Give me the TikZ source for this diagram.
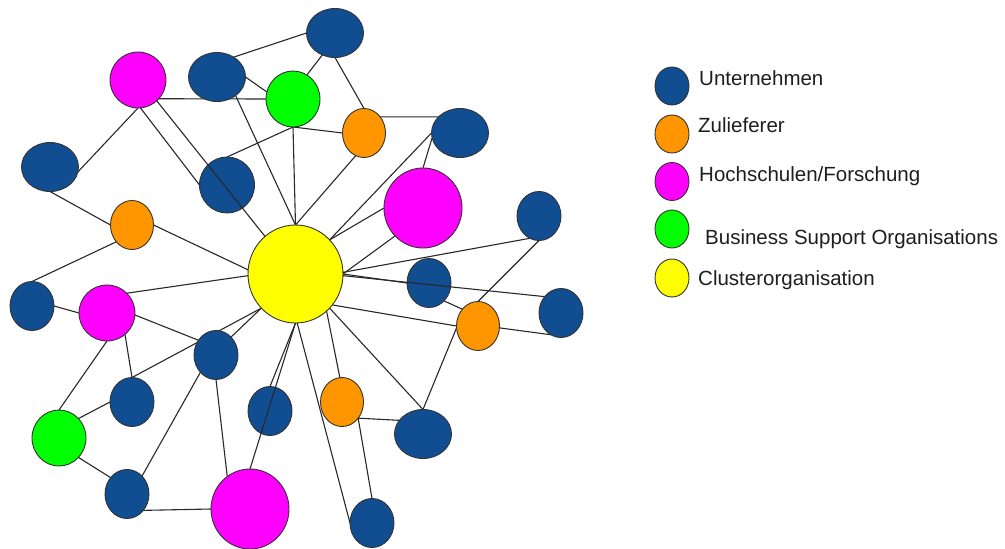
\documentclass[tikz,border=0pt]{standalone}
\usepackage{fontspec}
\setmainfont{Liberation Sans}
\usetikzlibrary{shapes.geometric}
\definecolor{ublue}{RGB}{16,77,145}
\definecolor{zorange}{RGB}{255,150,0}
\definecolor{hmag}{RGB}{255,0,255}
\definecolor{bgreen}{RGB}{0,255,0}
\definecolor{cyel}{RGB}{255,255,0}
\definecolor{edgecol}{RGB}{40,40,40}
\definecolor{txtcol}{RGB}{30,30,30}
\pgfdeclarelayer{background}
\pgfsetlayers{background,main}
\begin{document}
\begin{tikzpicture}[x=1pt,y=-1pt,
  ent/.style={ellipse, draw=black!80, line width=0.9pt, inner sep=0pt, outer sep=0pt},
  ubig/.style={ent, fill=ublue, minimum width=57pt, minimum height=49pt},
  usmall/.style={ent, fill=ublue, minimum width=44pt, minimum height=49pt},
  ucirc/.style={ent, fill=ublue, minimum width=55pt, minimum height=56pt},
  zul/.style={ent, fill=zorange, minimum width=43pt, minimum height=49pt},
  hsmall/.style={ent, fill=hmag, minimum width=56pt, minimum height=56pt},
  hbig/.style={ent, fill=hmag, minimum width=78pt, minimum height=80pt},
  bso/.style={ent, fill=bgreen, minimum width=54pt, minimum height=56pt},
  clu/.style={ent, fill=cyel, minimum width=95pt, minimum height=98pt},
  leg/.style={ent, minimum width=34pt, minimum height=38pt},
  legtext/.style={anchor=base west, inner sep=0pt, text=txtcol, font=\fontsize{20.5}{24}\selectfont},
  conn/.style={draw=edgecol, line width=1.1pt}
]
\useasboundingbox (0,0) rectangle (1005,549);

% network nodes
\node[ubig]   (U1)  at (335,33)  {};
\node[ubig]   (U2)  at (217,77)  {};
\node[hsmall] (P1)  at (138,80)  {};
\node[bso]    (G1)  at (293,99)  {};
\node[zul]    (O1)  at (364,133) {};
\node[ubig]   (U3)  at (460,133) {};
\node[ubig]   (U4)  at (50,167)  {};
\node[ucirc]  (U5)  at (227,185) {};
\node[zul]    (O2)  at (132,225) {};
\node[hbig]   (P2)  at (423,208) {};
\node[clu]    (Y)   at (295.5,274) {};
\node[usmall] (U15) at (539,216) {};
\node[usmall] (U13) at (429,283) {};
\node[usmall] (U6)  at (32,306)  {};
\node[hsmall] (P3)  at (107,313) {};
\node[zul]    (O4)  at (478,326) {};
\node[usmall] (U14) at (561,313) {};
\node[usmall] (U7)  at (216,355) {};
\node[usmall] (U8)  at (132,402) {};
\node[zul]    (O3)  at (342,402) {};
\node[usmall] (U10) at (270,411) {};
\node[ubig]   (U11) at (423,434) {};
\node[bso]    (G2)  at (59,438)  {};
\node[usmall] (U9)  at (127,494) {};
\node[hbig]   (P4)  at (250,509) {};
\node[usmall] (U12) at (372,523) {};

% connectors behind the nodes
\begin{pgfonlayer}{background}
\draw[conn] (U2.50) -- (U1.west);
\draw[conn] (U2.east) -- (G1.165);
\draw[conn] (P1.-42) -- (G1.west);
\draw[conn] (U1.240) -- (G1.60);
\draw[conn] (U1.south) -- (O1.north);
\draw[conn] (O1.45) -- (U3.143);
\draw[conn] (G1.south) -- (O1.west);
\draw[conn] (G1.south) -- (Y.north);
\draw[conn] (G1.south) -- (U5.north);
\draw[conn] (U2.-45) -- (Y.north);
\draw[conn] (O1.-110) -- (Y.north);
\draw[conn] (U3.west) -- (Y.45);
\draw[conn] (U3.190) -- (P2.north);
\draw[conn] (P2.west) -- (Y.45);
\draw[conn] (P2.225) -- (Y.0);
\draw[conn] (Y.2) -- (U15.-50);
\draw[conn] (U15.south) -- (O4.north);
\draw[conn] (P1.south) -- (U4.-10);
\draw[conn] (P1.-85) -- (U5.west);
\draw[conn] (U4.south) -- (O2.west);
\draw[conn] (O2.east) -- (Y.175);
\draw[conn] (O2.227) -- (U6.north);
\draw[conn] (P3.45) -- (Y.182);
\draw[conn] (U6.east) -- (P3.west);
\draw[conn] (P3.-4) -- (U7.140);
\draw[conn] (P3.-50) -- (U8.north);
\draw[conn] (P3.south) -- (G2.north);
\draw[conn] (U8.north) -- (Y.225);
\draw[conn] (U7.50) -- (Y.225);
\draw[conn] (G2.45) -- (U8.west);
\draw[conn] (G2.-45) -- (U9.135);
\draw[conn] (U9.50) -- (U7.228);
\draw[conn] (U9.-45) -- (P4.west);
\draw[conn] (U7.south) -- (P4.125);
\draw[conn] (U10.north) -- (Y.south);
\draw[conn] (Y.-88) -- (U12.west);
\draw[conn] (Y.-50) -- (O3.95);
\draw[conn] (Y.-45) -- (U11.north);
\draw[conn] (Y.-40) -- (O4.west);
\draw[conn] (O3.-45) -- (U11.150);
\draw[conn] (O3.-45) -- (U12.north);
\draw[conn] (O4.185) -- (U11.north);
\draw[conn] (U13.-50) -- (O4.133);
\draw[conn] (Y.0) -- (U13.west);
\draw[conn] (O4.-5) -- (U14.-115);
\end{pgfonlayer}

% connectors drawn across nodes
\draw[conn] (P1.-48) -- (Y.129);
\draw[conn] (P4.north) -- (Y.south);
\draw[conn] (Y.-2) -- (U14.135);

% legend
\node[leg, fill=ublue]   (L1) at (672,86)    {};
\node[leg, fill=zorange] (L2) at (672,134)   {};
\node[leg, fill=hmag]    (L3) at (672,181.5) {};
\node[leg, fill=bgreen]  (L4) at (672,229)   {};
\node[leg, fill=cyel]    (L5) at (672,278)   {};
\node[legtext] (T1) at (699,85)    {Unternehmen};
\node[legtext] (T2) at (698,132.7) {Zulieferer};
\node[legtext] (T3) at (699,181.7) {Hochschulen/Forschung};
\node[legtext] (T4) at (705,244)   {Business Support Organisations};
\node[legtext] (T5) at (698,285)   {Clusterorganisation};
\end{tikzpicture}
\end{document}
